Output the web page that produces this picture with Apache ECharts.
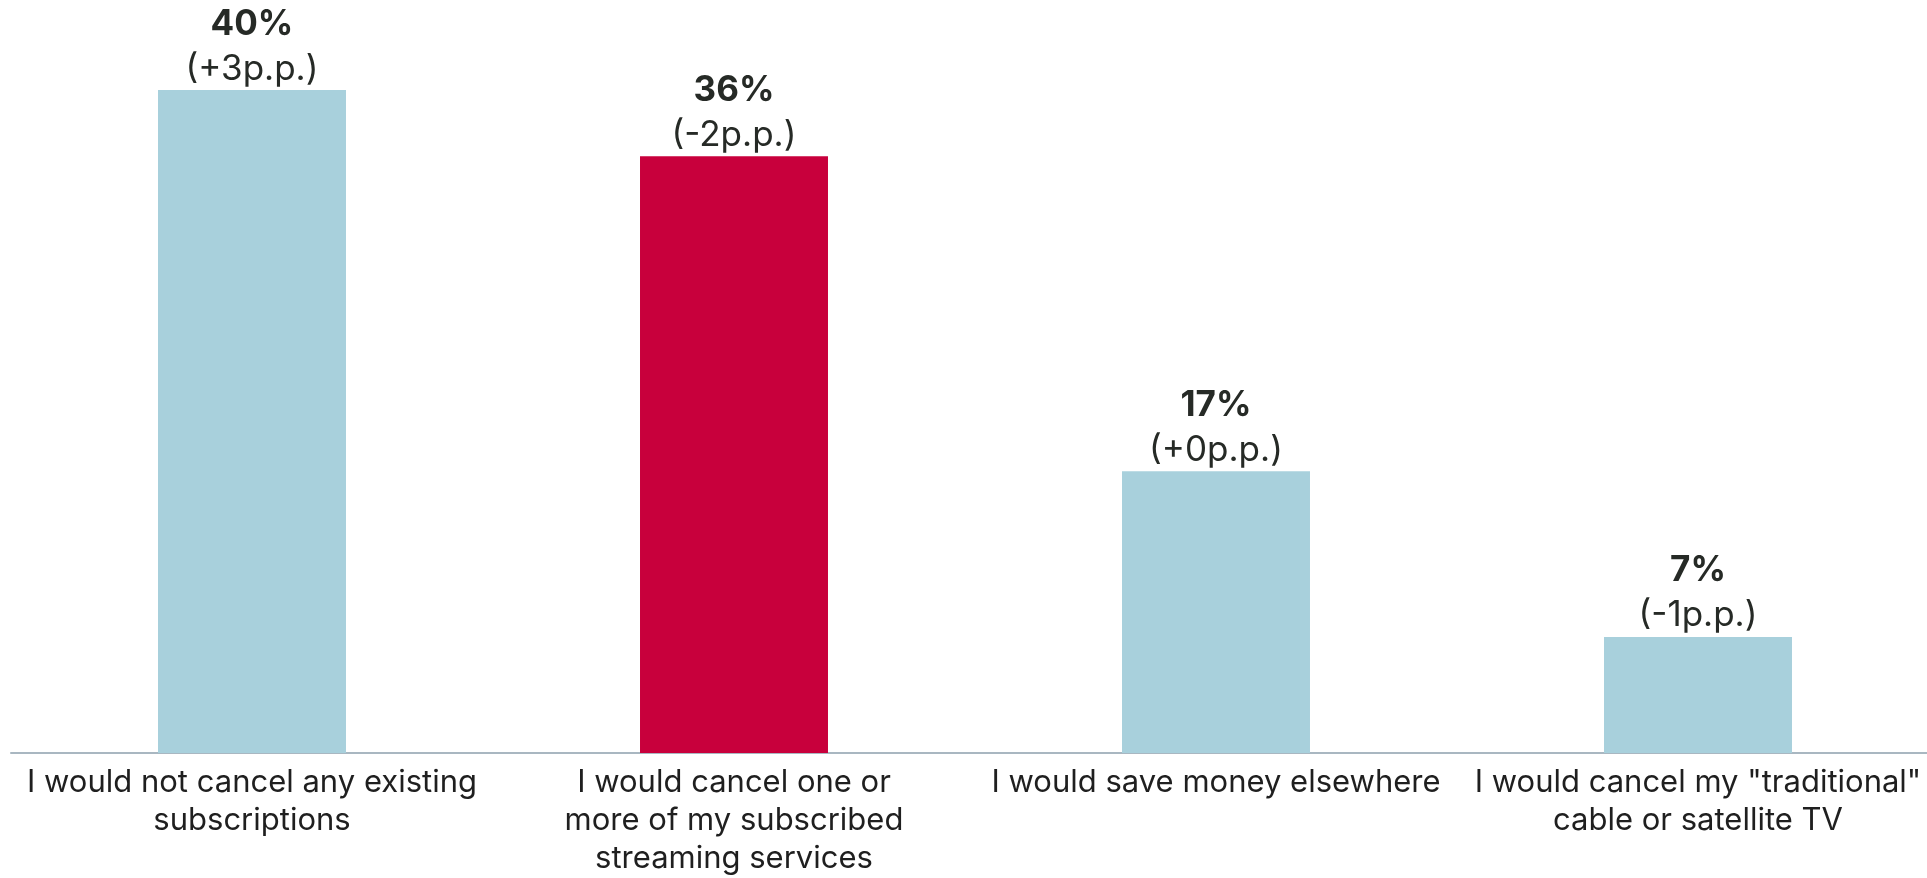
<!DOCTYPE html>
<html>
<head>
<meta charset="utf-8">
<script src="https://cdn.jsdelivr.net/npm/echarts@6/dist/echarts.min.js"></script>
<style>
  html, body { margin: 0; padding: 0; background: #ffffff; }
  #chart { width: 1927px; height: 878px; }
</style>
</head>
<body>
<div id="chart"></div>
<script>
// Survey answers, share of respondents (%) and change in percentage points
const categories = [
  'I would not cancel any existing\nsubscriptions',
  'I would cancel one or\nmore of my subscribed\nstreaming services',
  'I would save money elsewhere',
  'I would cancel my "traditional"\ncable or satellite TV'
];
const shares = [40, 36, 17, 7];
const changes = ['+3', '-2', '+0', '-1'];

const BASE_COLOR = '#a8d0dc';
const ACCENT_COLOR = '#c8003c';
const ACCENT_INDEX = 1;
const FONT = 'Inter, "Noto Sans", sans-serif';

const chart = echarts.init(document.getElementById('chart'), null, { renderer: 'canvas' });

chart.setOption({
  animation: false,
  backgroundColor: '#ffffff',
  grid: {
    left: 11, right: -12, top: 90, bottom: 125,
    containLabel: false,
    outerBoundsMode: 'none'
  },
  xAxis: {
    type: 'category',
    data: categories,
    axisLine: { show: true, lineStyle: { color: '#a9b7c1', width: 2 } },
    axisTick: { show: false },
    axisLabel: {
      interval: 0,
      color: '#1f1f1f',
      fontFamily: FONT,
      fontSize: 31,
      lineHeight: 38,
      margin: 11,
      align: 'center'
    }
  },
  yAxis: {
    type: 'value',
    min: 0,
    max: 40,
    show: false,
    splitLine: { show: false }
  },
  series: [{
    type: 'bar',
    barWidth: '39%',
    data: shares.map((v, i) => ({
      value: v,
      itemStyle: { color: i === ACCENT_INDEX ? ACCENT_COLOR : BASE_COLOR }
    })),
    label: {
      show: true,
      position: 'top',
      distance: 0,
      formatter: (p) => '{v|' + p.value + '%}\n{d|(' + changes[p.dataIndex] + 'p.p.)}',
      rich: {
        v: { fontFamily: FONT, fontSize: 35, fontWeight: 'bold', color: '#262a26', lineHeight: 48, align: 'center' },
        d: { fontFamily: FONT, fontSize: 35, color: '#262a26', lineHeight: 42, align: 'center' }
      }
    }
  }]
});
</script>
</body>
</html>
